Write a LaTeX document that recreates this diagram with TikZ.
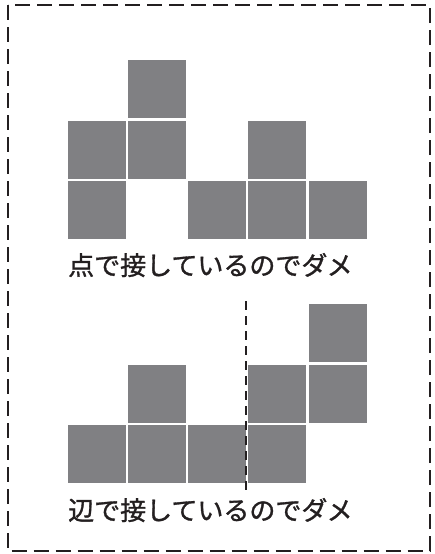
\documentclass[tikz,border=0pt]{standalone}
\usepackage{fontspec}
\newfontfamily\jpfont[FakeBold=1.2]{Noto Sans CJK JP}
\definecolor{cellgray}{RGB}{128,128,131}
\definecolor{inkgray}{RGB}{35,31,32}
\begin{document}
\begin{tikzpicture}[x=1pt,y=-1pt]
\tikzset{cell/.style={fill=cellgray,minimum size=58pt,inner sep=0pt},
         caption/.style={anchor=base west,inner sep=0pt,text=inkgray,font=\jpfont\fontsize{26pt}{26pt}\selectfont}}
\useasboundingbox (0,0) rectangle (434,554);
\draw [inkgray,line width=2pt,dash pattern=on 15pt off 7pt] (7.5,5) rectangle (429.5,551);
% corner contact
\node [cell] (a1) at (156.75,89) {};
\node [cell] (a2) at (96.5,149.5) {};
\node [cell] (a3) at (156.75,149.5) {};
\node [cell] (a4) at (96.5,210) {};
\node [cell] (a5) at (277.25,149.5) {};
\node [cell] (a6) at (217,210) {};
\node [cell] (a7) at (277.25,210) {};
\node [cell] (a8) at (337.5,210) {};
\node [caption] (capa) at (68,275) {点で接しているのでダメ};
% edge contact
\node [cell] (b1) at (156.75,393.5) {};
\node [cell] (b2) at (96.5,454) {};
\node [cell] (b3) at (156.75,454) {};
\node [cell] (b4) at (217,454) {};
\node [cell] (b5) at (337.5,333) {};
\node [cell] (b6) at (277.25,393.5) {};
\node [cell] (b7) at (337.5,393.5) {};
\node [cell] (b8) at (277.25,454) {};
\coordinate (cut top) at (246,301);
\coordinate (cut bottom) at (246,491);
\draw [inkgray,line width=1.2pt,dash pattern=on 9pt off 6pt] (cut top) -- (cut bottom);
\node [caption] (capb) at (68,520) {辺で接しているのでダメ};
\end{tikzpicture}
\end{document}
